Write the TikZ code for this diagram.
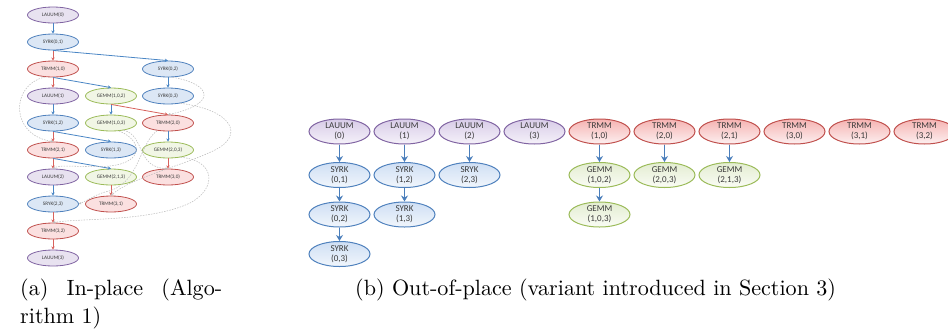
\documentclass[tikz,border=0pt]{standalone}
\usepackage{fontspec}
\usepackage{graphicx}
\newfontfamily\carl{Carlito}
\usetikzlibrary{arrows.meta,shapes.geometric}
\definecolor{purB}{HTML}{8064A2}
\definecolor{bluB}{HTML}{4F81BD}
\definecolor{redB}{HTML}{C0504D}
\definecolor{grnB}{HTML}{9BBB59}
\definecolor{lauF}{HTML}{E8E2F0}
\definecolor{syrF}{HTML}{DCE7F5}
\definecolor{trmF}{HTML}{FBE0E0}
\definecolor{gemF}{HTML}{F1F6E5}
\definecolor{lauT}{HTML}{D8CCE8}
\definecolor{lauBt}{HTML}{F5F1F9}
\definecolor{syrT}{HTML}{CFDFF4}
\definecolor{syrBt}{HTML}{F1F6FC}
\definecolor{trmT}{HTML}{F5B3B2}
\definecolor{trmBt}{HTML}{FDF0F0}
\definecolor{gemT}{HTML}{E3EDD1}
\definecolor{gemBt}{HTML}{FAFCF5}
\definecolor{txtC}{HTML}{3A3A3A}
\definecolor{arrBl}{HTML}{4A86C5}
\definecolor{arrRd}{HTML}{D8625D}
\definecolor{arrR}{HTML}{4A7EBB}
\definecolor{dashG}{HTML}{BDBDBD}
\tikzset{
  sn/.style={ellipse, minimum width=51pt, minimum height=16pt, inner sep=0pt, line width=0.8pt,
    font=\carl\fontsize{5.2}{6}\selectfont, text=txtC},
  snL/.style={sn, draw=purB, fill=lauF},
  snS/.style={sn, draw=bluB, fill=syrF},
  snT/.style={sn, draw=redB, fill=trmF},
  snG/.style={sn, draw=grnB, fill=gemF},
  bn/.style={ellipse, minimum width=61pt, minimum height=25pt, inner sep=0pt, line width=1pt,
    align=center, font=\carl\fontsize{9}{10.2}\selectfont, text=txtC},
  bnL/.style={bn, draw=purB, top color=lauT, bottom color=lauBt},
  bnS/.style={bn, draw=bluB, top color=syrT, bottom color=syrBt},
  bnT/.style={bn, draw=redB, top color=trmT, bottom color=trmBt},
  bnG/.style={bn, draw=grnB, top color=gemT, bottom color=gemBt},
  eBl/.style={-{Stealth[length=3.2pt,width=3.4pt]}, line width=0.8pt, draw=arrBl},
  eRd/.style={-{Stealth[length=3.2pt,width=3.4pt]}, line width=0.8pt, draw=arrRd},
  eDs/.style={-{Stealth[length=2.5pt,width=2.5pt]}, line width=0.55pt, draw=dashG, dash pattern=on 1.5pt off 1.2pt},
  eR/.style={-{Stealth[length=6pt,width=7pt,inset=2pt]}, line width=1.7pt, draw=arrR},
}
\begin{document}
\begin{tikzpicture}[x=1pt,y=-1pt]
\useasboundingbox (0,0) rectangle (948,330);
% ---------- (a) in-place ----------
\node[snL] (al0) at (53,15) {LAUUM(0)};
\node[snS] (as01) at (53,42) {SYRK(0,1)};
\node[snT] (at10) at (53,69) {TRMM(1,0)};
\node[snL] (al1) at (53,96) {LAUUM(1)};
\node[snS] (as12) at (53,123) {SYRK(1,2)};
\node[snT] (at21) at (53,150) {TRMM(2,1)};
\node[snL] (al2) at (53,177) {LAUUM(2)};
\node[snS] (as23) at (53,204) {SRYK(2,3)};
\node[snT] (at32) at (53,231) {TRMM(3,2)};
\node[snL] (al3) at (53,258) {LAUUM(3)};
\node[snG] (ag102) at (111,96) {GEMM(1,0,2)};
\node[snG] (ag103) at (111,123) {GEMM(1,0,3)};
\node[snS] (as13) at (111,150) {SYRK(1,3)};
\node[snG] (ag213) at (111,177) {GEMM(2,1,3)};
\node[snT] (at31) at (111,204) {TRMM(3,1)};
\node[snS] (as02) at (168,69) {SYRK(0,2)};
\node[snS] (as03) at (168,96) {SYRK(0,3)};
\node[snT] (at20) at (168,123) {TRMM(2,0)};
\node[snG] (ag203) at (168,150) {GEMM(2,0,3)};
\node[snT] (at30) at (168,177) {TRMM(3,0)};
% solid edges
\draw[eBl] (al0) -- (as01);
\draw[eRd] (as01) -- (at10);
\draw[eBl] (as01.south) -- (as02.north);
\draw[eRd] (at10) -- (al1);
\draw[eBl] (at10.south) -- (ag102.north);
\draw[eBl] (as02) -- (as03);
\draw[eBl] (al1) -- (as12);
\draw[eBl] (ag102) -- (ag103);
\draw[eRd] (ag102.south) -- (at20.north);
\draw[eRd] (as12) -- (at21);
\draw[eBl] (as12.south) -- (as13.north);
\draw[eBl] (at20) -- (ag203);
\draw[eRd] (at21) -- (al2);
\draw[eBl] (at21.south) -- (ag213.north);
\draw[eRd] (ag203) -- (at30);
\draw[eBl] (al2) -- (as23);
\draw[eRd] (ag213) -- (at31);
\draw[eRd] (as23) -- (at32);
\draw[eRd] (at32) -- (al3);
% dashed dependencies
\draw[eDs] (at10.225) .. controls (10,85) and (10,135) .. (at21.north);
\draw[eDs] (as02.300) .. controls (215,85) and (215,105) .. (at20.north);
\draw[eDs] (as03.330) .. controls (232,110) and (245,135) .. (215,150) .. controls (185,165) and (130,178) .. (at31.north);
\draw[eDs] (ag103.330) .. controls (145,135) and (136,168) .. (at30.north);
\draw[eDs] (ag103.315) .. controls (142,140) and (145,162) .. (110,166) .. controls (85,168) and (60,164) .. (al2.north);
\draw[eDs] (ag203.330) .. controls (215,160) and (218,188) .. (190,203) .. controls (150,222) and (80,218) .. (at32.north);
\draw[eDs] (at20.215) .. controls (138,145) and (140,185) .. (105,192) .. controls (95,195) and (88,200) .. (as23.east);
% ---------- (b) out-of-place ----------
\node[bnL] (bl0) at (339.5,131.5) {LAUUM\\(0)};
\node[bnL] (bl1) at (404.5,131.5) {LAUUM\\(1)};
\node[bnL] (bl2) at (469.5,131.5) {LAUUM\\(2)};
\node[bnL] (bl3) at (534.5,131.5) {LAUUM\\(3)};
\node[bnT] (bt10) at (599.5,131.5) {TRMM\\(1,0)};
\node[bnT] (bt20) at (664.5,131.5) {TRMM\\(2,0)};
\node[bnT] (bt21) at (729.5,131.5) {TRMM\\(2,1)};
\node[bnT] (bt30) at (794.5,131.5) {TRMM\\(3,0)};
\node[bnT] (bt31) at (859.5,131.5) {TRMM\\(3,1)};
\node[bnT] (bt32) at (924.5,131.5) {TRMM\\(3,2)};
\node[bnS] (bs01) at (339.5,175) {SYRK\\(0,1)};
\node[bnS] (bs02) at (339.5,214.5) {SYRK\\(0,2)};
\node[bnS] (bs03) at (339.5,254) {SYRK\\(0,3)};
\node[bnS] (bs12) at (404.5,175) {SYRK\\(1,2)};
\node[bnS] (bs13) at (404.5,214.5) {SYRK\\(1,3)};
\node[bnS] (bs23) at (469.5,175) {SRYK\\(2,3)};
\node[bnG] (bg102) at (599.5,175) {GEMM\\(1,0,2)};
\node[bnG] (bg103) at (599.5,214.5) {GEMM\\(1,0,3)};
\node[bnG] (bg203) at (664.5,175) {GEMM\\(2,0,3)};
\node[bnG] (bg213) at (729.5,175) {GEMM\\(2,1,3)};
\draw[eR] (bl0) -- (bs01);
\draw[eR] (bs01) -- (bs02);
\draw[eR] (bs02) -- (bs03);
\draw[eR] (bl1) -- (bs12);
\draw[eR] (bs12) -- (bs13);
\draw[eR] (bl2) -- (bs23);
\draw[eR] (bt10) -- (bg102);
\draw[eR] (bg102) -- (bg103);
\draw[eR] (bt20) -- (bg203);
\draw[eR] (bt21) -- (bg213);
% ---------- captions ----------
\node[anchor=base west, inner sep=0pt] (capa1) at (20,295) {\scalebox{2.21}{\makebox[91.4pt][s]{(a) In-place (Algo-}}};
\node[anchor=base west, inner sep=0pt] (capa2) at (20,323) {\scalebox{2.21}{rithm 1)}};
\node[anchor=base west, inner sep=0pt] (capb) at (355,295) {\scalebox{2.21}{(b) Out-of-place (variant introduced in Section 3)}};
\end{tikzpicture}
\end{document}
